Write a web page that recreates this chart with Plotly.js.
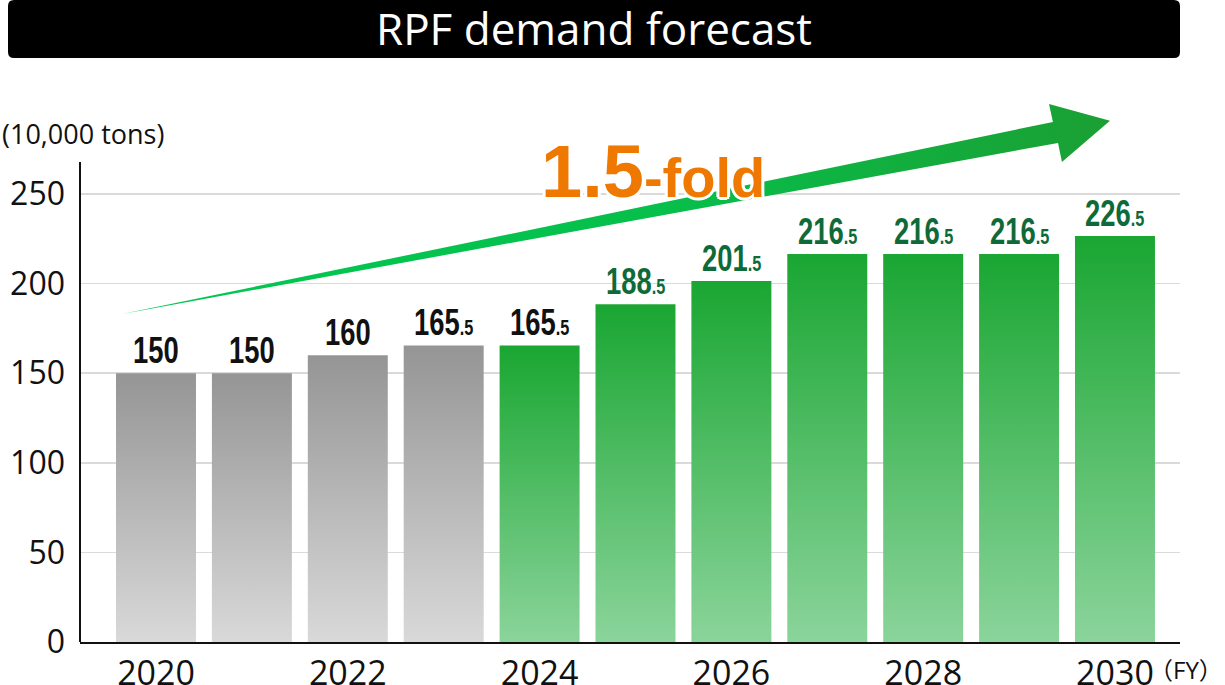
<!DOCTYPE html>
<html><head><meta charset="utf-8">
<script src="https://cdn.plot.ly/plotly-3.0.1.min.js"></script>
<style>
html,body{margin:0;padding:0;background:#fff;}
#chart{width:1225px;height:685px;}
/* condensed look for the value labels */
text.annotation-text[style*="Narrow"]{transform-box:fill-box;transform-origin:50% 100%;transform:scaleX(0.74);}
</style>
</head><body><div id="chart"></div>
<script>
// ---- data ----
const years = [2020, 2021, 2022, 2023, 2024, 2025, 2026, 2027, 2028, 2029, 2030];
const demand = [150, 150, 160, 165.5, 165.5, 188.5, 201.5, 216.5, 216.5, 216.5, 226.5];
const period = ['actual', 'actual', 'actual', 'actual', 'estimate', 'forecast', 'forecast', 'forecast', 'forecast', 'forecast', 'forecast'];
const xTickVals = [2020, 2022, 2024, 2026, 2028, 2030];
const yTickVals = [0, 50, 100, 150, 200, 250];
const titleText = 'RPF demand forecast';
const unitText = '(10,000 tons)';
const fyText = '（FY）';
const growthBig = '1.5';
const growthSmall = '-fold';

// ---- styles / geometry ----
const W = 1225, H = 685;
const M = {l: 80, r: 45, t: 62, b: 43};
const PW = W - M.l - M.r, PH = H - M.t - M.b;
const xRange = [2019.2075, 2030.678];
const yRange = [0, 323.66];
const barHalf = 0.417;
const yAxisTop = 267.9;
const grayScale = [[0, '#d9d9d9'], [1, '#959595']];
const greenScale = [[0, '#8bd49b'], [1, '#1aa632']];
const arrowScale = [[0, '#00c853'], [0.55, '#07bf4b'], [1, '#1b9f33']];
// decorative arrow (data coordinates)
const arrowPts = {
  tail: [2019.645, 183.0],
  shaftTopEnd: [2029.353, 290.2],
  headTop: [2029.312, 300.2],
  tip: [2029.948, 290.9],
  headBottom: [2029.447, 267.9],
  shaftBottomEnd: [2029.406, 278.5]
};

const px2paperX = x => (x - M.l) / PW;
const px2paperY = y => (H - M.b - y) / PH;

const traces = [];
years.forEach((yr, i) => {
  const v = demand[i];
  const gray = period[i] === 'actual';
  traces.push({
    type: 'scatter', mode: 'none', fill: 'toself', hoverinfo: 'skip', showlegend: false,
    x: [yr - barHalf, yr + barHalf, yr + barHalf, yr - barHalf, yr - barHalf],
    y: [0, 0, v, v, 0],
    fillcolor: gray ? '#b0b0b0' : '#4cbb5f',
    fillgradient: {type: 'vertical', start: 0, stop: v, colorscale: gray ? grayScale : greenScale}
  });
});
const a = arrowPts;
const arrowOrder = [a.tail, a.shaftTopEnd, a.headTop, a.tip, a.headBottom, a.shaftBottomEnd, a.tail];
traces.push({
  type: 'scatter', mode: 'none', fill: 'toself', hoverinfo: 'skip', showlegend: false,
  x: arrowOrder.map(p => p[0]), y: arrowOrder.map(p => p[1]),
  fillcolor: '#0cbf48',
  fillgradient: {type: 'horizontal', colorscale: arrowScale}
});

const labelFont = 'Liberation Sans Narrow, Liberation Sans, Arial, sans-serif';
const annotations = years.map((yr, i) => {
  const v = demand[i];
  const intPart = Math.floor(v);
  const frac = v - intPart;
  const txt = frac ? `${intPart}<span style="font-size:22px">.${Math.round(frac * 10)}</span>` : `${intPart}`;
  return {
    x: yr, y: v, xref: 'x', yref: 'y', text: txt, showarrow: false,
    xanchor: 'center', yanchor: 'bottom', yshift: 0,
    font: {family: labelFont, size: 37, weight: 700, color: period[i] === 'forecast' ? '#0e6a39' : '#111111'}
  };
});
const mainFont = 'Open Sans, Noto Sans, sans-serif';
annotations.push({
  xref: 'paper', yref: 'paper', x: px2paperX(0), y: px2paperY(133), xanchor: 'left', yanchor: 'middle',
  text: unitText, showarrow: false, font: {family: mainFont, size: 27, color: '#111'}
});
annotations.push({
  xref: 'paper', yref: 'paper', x: px2paperX(1225), y: px2paperY(669), xanchor: 'right', yanchor: 'middle',
  text: fyText, showarrow: false, font: {family: 'Open Sans, Noto Sans CJK JP, sans-serif', size: 24, color: '#111'}
});
const ws = '#ffffff';
annotations.push({
  xref: 'paper', yref: 'paper', x: px2paperX(539), y: px2paperY(171), xanchor: 'left', yanchor: 'middle',
  text: `${growthBig}<span style="font-size:56px">${growthSmall}</span>`, showarrow: false,
  font: {family: 'Liberation Sans, Arial, sans-serif', size: 74, weight: 700, color: '#ee7800',
    shadow: `3px 0 0 ${ws}, -3px 0 0 ${ws}, 0 3px 0 ${ws}, 0 -3px 0 ${ws}, 2px 2px 0 ${ws}, -2px -2px 0 ${ws}, 2px -2px 0 ${ws}, -2px 2px 0 ${ws}`}
});

// title bar rounded rect
const r = 6, bx0 = 8, bx1 = 1180, by0 = 0, by1 = 58;
const P = (x, y) => `${px2paperX(x)},${px2paperY(y)}`;
const barPath = `M ${P(bx0 + r, by0)} L ${P(bx1 - r, by0)} Q ${P(bx1, by0)} ${P(bx1, by0 + r)} L ${P(bx1, by1 - r)} Q ${P(bx1, by1)} ${P(bx1 - r, by1)} L ${P(bx0 + r, by1)} Q ${P(bx0, by1)} ${P(bx0, by1 - r)} L ${P(bx0, by0 + r)} Q ${P(bx0, by0)} ${P(bx0 + r, by0)} Z`;

const layout = {
  width: W, height: H, margin: M,
  paper_bgcolor: '#ffffff', plot_bgcolor: '#ffffff',
  showlegend: false,
  title: {text: titleText, x: 594 / W, xref: 'container', xanchor: 'center', y: 1 - 30 / H, yref: 'container', yanchor: 'middle',
    font: {family: mainFont, size: 44, color: '#ffffff'}},
  xaxis: {range: xRange, tickvals: xTickVals, ticktext: xTickVals.map(String), showgrid: false, zeroline: false,
    showline: true, linecolor: '#111', linewidth: 2, ticks: '', ticklabelstandoff: 0,
    tickfont: {family: mainFont, size: 34, color: '#111'}, fixedrange: true},
  yaxis: {range: yRange, tickvals: yTickVals, showgrid: true, gridcolor: '#dadada', gridwidth: 1.5, zeroline: false,
    showline: false, ticks: '', ticklabelstandoff: 14,
    tickfont: {family: mainFont, size: 32, color: '#111'}, fixedrange: true},
  shapes: [
    {type: 'path', xref: 'paper', yref: 'paper', path: barPath, fillcolor: '#000', line: {width: 0}, layer: 'below'},
    {type: 'line', xref: 'paper', yref: 'y', x0: 0, x1: 0, y0: 0, y1: yAxisTop, line: {color: '#111', width: 2}, layer: 'above'}
  ],
  annotations: annotations
};
Plotly.newPlot('chart', traces, layout, {displayModeBar: false, staticPlot: true});
</script></body></html>
